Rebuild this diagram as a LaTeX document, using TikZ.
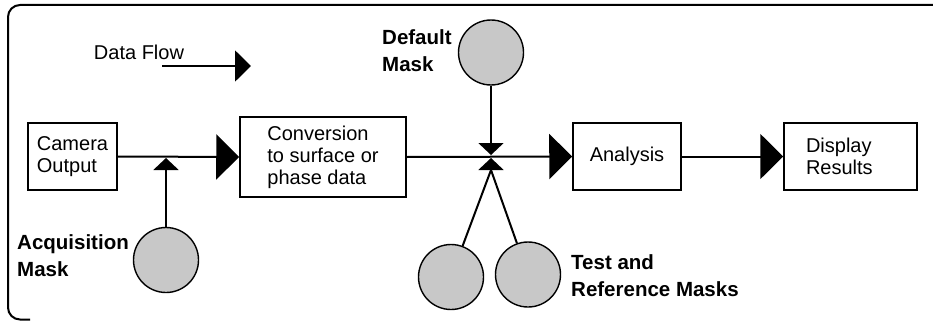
\documentclass[tikz,border=0pt]{standalone}
\usepackage{fontspec}
\setmainfont{Liberation Sans}
\usetikzlibrary{arrows.meta}
\usetikzlibrary{positioning}

\definecolor{maskgray}{RGB}{200,200,200}

\begin{document}
\begin{tikzpicture}[x=1pt, y=-1pt, font=\fontsize{20}{22}\selectfont,
    box/.style={draw, line width=1.5pt, align=left, minimum height=67pt, inner xsep=0pt},
    mask/.style={circle, draw, fill=maskgray, line width=1.4pt, minimum size=65pt, inner sep=0pt},
    masklabel/.style={anchor=west, align=left, inner sep=0pt, font=\fontsize{20.5}{27}\selectfont\bfseries},
    flowarrow/.style={line width=2pt, -{Triangle[length=23pt, width=45pt]}},
    masktip/.style={line width=2pt, -{Triangle[length=12pt, width=25pt]}}]
        \useasboundingbox (0,0) rectangle (933,321);

        % Outer frame, open on the right
        \draw[line width=2pt, rounded corners=12pt] (945,5) -- (8,5) -- (8,319.5) -- (30,319.5);

        % Legend
        \node (flowtxt) at (139,52) {Data Flow};
        \coordinate (flowa) at (162,66);
        \coordinate (flowb) at (251,66);
        \draw[line width=2pt, -{Triangle[length=16pt, width=31pt]}] (flowa) -- (flowb);

        % Processing boxes
        \node[box, minimum width=89pt] (cam) at (72.5,156.5) {Camera\\Output};
        \node[box, minimum width=166pt, minimum height=80pt] (conv) at (323,157) {Conversion\\to surface or\\phase data};
        \node[box, minimum width=108pt] (ana) at (627,156.5) {Analysis};
        \node[box, text width=89pt, inner xsep=22pt] (disp) at (850.5,156.5) {Display\\Results};

        \draw[flowarrow] (cam.east) -- (conv.west);
        \draw[flowarrow] (conv.east) -- (ana.west);
        \draw[flowarrow] (ana.east) -- (disp.west);

        % Masks
        \node[mask] (acq) at (166,260) {};
        \node[mask] (def) at (491,52.5) {};
        \node[mask] (testl) at (451,277) {};
        \node[mask] (testr) at (528,274.5) {};

        \coordinate (acqtip) at (166,158);
        \coordinate (deftip) at (491,155);
        \coordinate (testtip) at (491,158);
        \coordinate (testbase) at (491,170);

        \draw[masktip] (acq.north) -- (acqtip);
        \draw[masktip] (def.south) -- (deftip);
        \draw[masktip] (testl) -- (testbase) -- (testtip);
        \draw[line width=2pt] (testr) -- (testbase);

        \node[masklabel] (acqlbl) at (17,256) {Acquisition\\Mask};
        \node[masklabel] (deflbl) at (382,51) {Default\\Mask};
        \node[masklabel] (testlbl) at (571,276) {Test and\\Reference Masks};
      \end{tikzpicture}
\end{document}
